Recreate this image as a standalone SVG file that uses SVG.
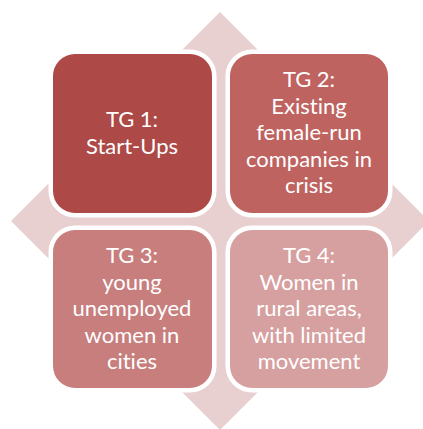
<svg xmlns="http://www.w3.org/2000/svg" width="423" height="429" viewBox="0 0 423 429">
<style>
.box{stroke:#ffffff;stroke-width:9;paint-order:stroke}
.t{font-family:Lato,"Open Sans","Liberation Sans",sans-serif;font-size:22px;fill:#ffffff;text-anchor:middle;font-variant-ligatures:none}
</style>
<rect width="423" height="429" fill="#ffffff"/>
<g id="background">
<polygon points="220,12 429,221 220,430 11,221" fill="#e8d0d1"/>
</g>
<g id="connectors"></g>
<g id="tg1">
<rect class="box" x="53" y="54" width="159" height="159" rx="22" fill="#ad4946"/>
<text class="t" x="132" y="127">TG 1:</text>
<text class="t" x="132" y="153.5">Start-Ups</text>
</g>
<g id="tg2">
<rect class="box" x="230" y="54" width="158" height="159" rx="22" fill="#bf6361"/>
<text class="t" x="309" y="87">TG 2:</text>
<text class="t" x="309" y="113.5">Existing</text>
<text class="t" x="309" y="140">female-run</text>
<text class="t" x="309" y="166.5">companies in</text>
<text class="t" x="309" y="193">crisis</text>
</g>
<g id="tg3">
<rect class="box" x="53" y="230" width="159" height="158" rx="22" fill="#c77e7d"/>
<text class="t" x="132" y="263">TG 3:</text>
<text class="t" x="132" y="289.5">young</text>
<text class="t" x="132" y="316">unemployed</text>
<text class="t" x="132" y="342.5">women in</text>
<text class="t" x="132" y="369">cities</text>
</g>
<g id="tg4">
<rect class="box" x="230" y="230" width="158" height="158" rx="22" fill="#d7a0a0"/>
<text class="t" x="309" y="263">TG 4:</text>
<text class="t" x="309" y="289.5">Women in</text>
<text class="t" x="309" y="316">rural areas,</text>
<text class="t" x="309" y="342.5">with limited</text>
<text class="t" x="309" y="369">movement</text>
</g>
</svg>
